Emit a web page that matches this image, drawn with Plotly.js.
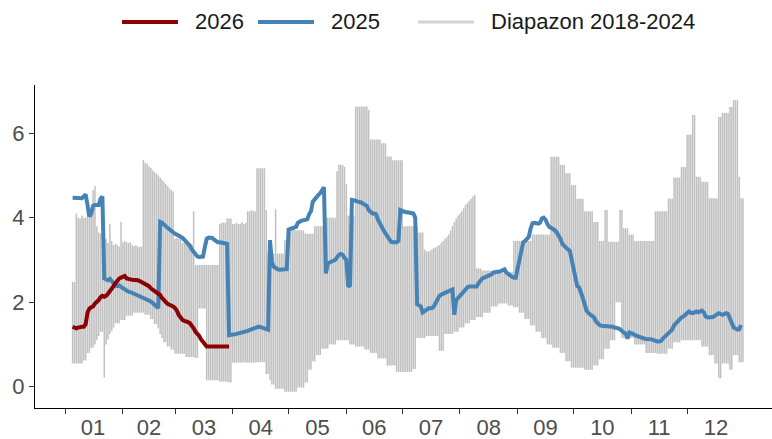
<!DOCTYPE html>
<html>
<head>
<meta charset="utf-8">
<script src="https://cdn.plot.ly/plotly-3.0.1.min.js"></script>
<style>html,body{margin:0;padding:0;background:#fff;}#chart{width:772px;height:439px;}</style>
</head>
<body>
<div id="chart"></div>
<script>
// Day-of-year offsets (0 = 1 January). First value of every series is day 4 (5 January).
const firstDay = 4;

// Range 2018-2024: daily maximum (day 4 .. day 364)
const rangeMax = [
  // Jan (d4-30)
  2.48,2.48,4.1,4.0,3.98,4.05,4.0,4.0,4.2,4.18,4.2,4.65,4.75,3.8,3.65,3.62,3.65,3.55,3.5,3.4,3.85,3.45,3.35,3.38,3.35,3.32,3.9,
  // Jan31-Feb (d31-58)
  3.42,3.45,3.42,3.4,3.42,3.35,3.33,3.35,3.32,3.3,3.32,5.36,5.3,5.28,5.22,5.18,5.12,5.08,5.04,5.0,4.95,4.9,4.85,4.8,4.75,4.7,4.65,4.62,
  // Mar (d59-89)
  3.5,3.52,3.5,3.48,3.4,3.42,3.4,3.38,3.4,3.38,4.15,2.88,2.88,2.88,2.88,2.88,2.88,2.88,2.88,2.88,2.88,2.88,2.88,2.88,3.85,3.88,3.88,3.88,3.98,3.98,3.98,
  // Apr (d90-119)
  3.85,3.85,3.88,3.85,3.85,3.9,3.85,3.88,4.15,4.15,4.18,4.15,4.15,5.17,5.17,5.17,5.17,5.17,4.18,3.15,3.15,3.15,3.15,4.2,3.15,3.15,3.15,3.15,3.47,3.47,
  // May (d120-150)
  3.47,3.7,3.7,3.72,3.7,3.7,3.7,3.7,3.7,3.62,3.62,3.62,3.62,3.62,3.8,3.8,3.8,3.8,3.8,3.8,4.0,4.0,4.0,4.0,4.0,4.0,5.1,5.25,5.25,5.25,5.2,
  // Jun (d151-180)
  4.8,4.05,4.05,4.05,4.05,6.63,6.63,6.63,6.63,6.63,6.63,6.63,6.55,5.85,5.85,5.85,5.85,5.85,5.85,5.76,5.76,5.76,5.45,5.45,5.45,5.36,5.36,5.36,5.36,5.36,
  // Jul (d181-211)
  5.36,3.8,3.8,3.8,3.8,3.8,3.8,3.8,3.8,3.65,3.65,3.65,3.25,3.2,3.2,3.22,3.25,3.28,3.3,3.33,3.35,3.4,3.45,3.5,3.55,3.6,3.7,3.8,3.9,3.98,4.05,
  // Aug (d212-242)
  4.1,4.15,4.22,4.3,4.35,4.4,4.45,4.5,4.54,2.8,2.8,2.8,2.75,2.75,2.75,2.75,2.75,2.75,2.75,2.75,2.75,2.75,2.75,2.75,2.72,2.72,2.72,2.72,2.72,3.45,3.45,
  // Sep (d243-272)
  3.45,3.45,3.45,3.45,3.45,3.45,3.45,3.45,3.6,3.6,3.6,3.6,3.6,3.6,3.6,3.6,3.6,3.6,5.44,5.44,5.44,5.44,5.44,5.25,5.25,5.25,5.05,5.05,5.05,4.77,
  // Oct (d273-303)
  4.77,4.77,4.45,4.45,4.45,4.45,4.15,4.15,4.15,4.15,4.15,3.9,3.9,3.9,3.45,3.45,3.45,4.18,4.18,3.43,3.43,3.43,3.43,3.43,3.43,4.18,4.18,3.75,3.75,3.75,3.6,
  // Nov (d304-333)
  3.6,3.6,3.45,3.45,3.45,3.45,3.45,3.45,3.45,3.45,3.45,3.45,3.45,4.15,4.15,4.15,4.15,4.15,4.15,4.15,4.45,4.45,4.45,4.95,4.95,4.95,4.95,5.2,5.2,5.2,
  // Dec (d334-364)
  5.96,5.96,5.96,6.43,6.43,4.97,4.97,4.97,4.85,4.85,4.85,4.85,4.46,4.46,4.46,4.46,4.46,6.38,6.38,6.48,6.48,6.48,6.48,6.62,6.62,6.78,6.78,6.78,4.97,4.46,4.46
];

// Range 2018-2024: daily minimum (day 4 .. day 364)
const rangeMin = [
  // Jan
  0.55,0.55,0.55,0.55,0.55,0.55,0.62,0.62,0.8,0.8,0.92,0.92,1.0,1.1,1.2,1.3,1.3,0.22,1.0,1.12,1.25,1.32,1.4,1.5,1.5,1.5,1.58,
  // Jan31-Feb
  1.58,1.58,1.68,1.68,1.68,1.68,1.75,1.75,1.75,1.75,1.75,1.75,1.7,1.7,1.7,1.6,1.6,1.48,1.48,1.38,1.25,1.15,1.05,1.05,0.95,0.95,0.88,0.88,
  // Mar
  0.78,0.78,0.78,0.78,0.78,0.78,0.7,0.7,0.7,0.7,0.7,0.68,0.68,1.85,1.85,1.85,1.85,0.15,0.15,0.15,0.15,0.15,0.15,0.15,0.12,0.12,0.12,0.12,0.12,0.1,0.1,
  // Apr
  0.57,0.57,0.57,0.57,0.57,0.57,0.57,0.57,0.57,0.57,0.57,0.57,0.57,0.58,0.58,0.58,0.58,0.58,0.3,0.3,0.15,0.05,0.05,-0.05,-0.05,-0.05,-0.05,-0.05,-0.12,-0.12,
  // May
  -0.12,-0.12,-0.12,-0.12,-0.12,-0.02,-0.02,-0.02,-0.02,0.1,0.1,0.4,0.4,0.6,0.6,0.75,0.75,0.75,0.9,0.9,0.9,0.9,1.0,1.0,1.0,1.0,1.1,1.1,1.1,1.1,1.1,
  // Jun
  1.1,1.1,1.0,1.0,1.0,0.95,0.95,0.95,0.95,0.95,0.88,0.88,0.88,0.8,0.8,0.8,0.8,0.67,0.67,0.67,0.67,0.67,0.5,0.5,0.5,0.5,0.5,0.35,0.35,0.35,
  // Jul
  0.35,0.35,0.35,0.35,0.35,0.35,0.42,0.42,1.15,1.15,1.15,1.15,1.15,1.2,1.2,1.2,1.2,1.2,1.2,1.2,0.85,0.85,0.85,1.25,1.25,1.25,1.25,1.25,1.3,1.3,1.3,
  // Aug
  1.4,1.4,1.4,1.5,1.5,1.5,1.58,1.58,1.58,1.65,1.65,1.65,1.65,1.75,1.75,1.75,1.75,1.9,1.9,1.9,1.9,1.97,1.97,1.97,1.97,1.97,1.92,1.92,1.92,1.88,1.88,
  // Sep
  1.88,1.75,1.75,1.75,1.6,1.6,1.6,1.45,1.45,1.45,1.3,1.3,1.3,1.15,1.15,1.15,1.0,1.0,1.0,0.92,0.92,0.92,0.92,0.8,0.8,0.8,0.6,0.6,0.6,0.45,
  // Oct
  0.45,0.45,0.45,0.45,0.45,0.45,0.4,0.4,0.4,0.4,0.4,0.5,0.5,0.5,0.65,0.65,0.65,0.9,0.9,0.9,1.1,1.1,1.1,2.0,2.0,2.0,1.15,1.15,1.15,1.15,1.15,
  // Nov
  1.15,1.15,1.0,1.0,1.0,1.0,1.0,1.0,0.8,0.8,0.8,0.8,0.8,0.8,0.78,0.78,0.78,0.78,0.78,0.78,0.9,0.9,0.9,1.05,1.05,1.05,1.05,1.1,1.1,1.1,
  // Dec
  1.1,1.1,1.1,1.1,1.1,1.1,1.1,1.1,0.95,0.95,0.95,0.95,0.75,0.75,0.75,0.55,0.55,0.2,0.2,0.55,0.55,0.55,0.55,0.4,0.4,0.75,0.75,0.75,0.58,0.58,0.58
];

// 2025 (day 4 .. day 363)
const y2025 = [
  // Jan
  4.47,4.47,4.46,4.46,4.45,4.46,4.5,4.55,4.3,4.03,4.1,4.28,4.3,4.3,4.3,4.45,4.5,2.56,2.55,2.52,2.55,2.5,2.44,2.4,2.38,2.4,2.36,
  // Jan31-Feb
  2.33,2.3,2.28,2.25,2.24,2.22,2.2,2.18,2.18,2.16,2.14,2.12,2.1,2.08,2.05,2.02,1.98,1.95,1.9,1.86,3.9,3.88,3.85,3.8,3.76,3.72,3.68,3.65,
  // Mar
  3.62,3.6,3.58,3.55,3.52,3.48,3.44,3.4,3.33,3.25,3.18,3.12,3.08,3.07,3.07,3.08,3.3,3.5,3.53,3.53,3.52,3.48,3.44,3.42,3.42,3.4,3.4,3.39,3.38,1.22,1.22,
  // Apr
  1.24,1.24,1.25,1.26,1.26,1.28,1.3,1.3,1.32,1.34,1.36,1.38,1.4,1.42,1.42,1.41,1.4,1.38,1.36,1.35,3.47,2.95,2.84,2.8,2.78,2.77,2.77,2.76,2.76,2.78,
  // May
  3.72,3.74,3.75,3.76,3.78,3.88,3.92,3.93,3.94,3.94,3.96,4.08,4.15,4.38,4.44,4.5,4.54,4.58,4.66,4.72,2.68,2.92,2.94,2.95,2.98,3.0,3.08,3.12,3.14,3.12,3.05,
  // Jun
  3.0,2.37,2.4,4.42,4.42,4.4,4.38,4.38,4.36,4.33,4.3,4.28,4.18,4.12,4.1,4.1,4.08,3.95,3.85,3.78,3.7,3.63,3.55,3.48,3.43,3.42,3.42,3.42,3.45,4.18,
  // Jul
  4.16,4.14,4.13,4.13,4.12,4.12,4.1,4.0,1.95,1.93,1.9,1.76,1.78,1.82,1.85,1.85,1.86,1.9,2.0,2.08,2.15,2.18,2.2,2.22,2.25,2.28,2.3,2.3,1.7,2.05,2.1,
  // Aug
  2.15,2.2,2.28,2.33,2.35,2.37,2.37,2.35,2.35,2.37,2.45,2.52,2.56,2.58,2.6,2.6,2.62,2.66,2.7,2.72,2.72,2.72,2.74,2.78,2.78,2.7,2.66,2.62,2.6,2.58,2.58,
  // Sep
  2.8,3.0,3.3,3.42,3.45,3.5,3.55,3.75,3.87,3.88,3.87,3.86,3.88,3.98,4.0,3.95,3.85,3.78,3.76,3.74,3.7,3.65,3.58,3.5,3.38,3.33,3.28,3.25,3.22,3.0,
  // Oct
  2.8,2.5,2.38,2.35,2.25,2.1,1.95,1.8,1.74,1.7,1.66,1.64,1.55,1.5,1.46,1.44,1.44,1.44,1.44,1.43,1.42,1.42,1.4,1.4,1.38,1.36,1.3,1.28,1.26,1.14,1.28,
  // Nov
  1.27,1.25,1.22,1.2,1.18,1.16,1.14,1.14,1.13,1.13,1.13,1.12,1.1,1.08,1.07,1.07,1.08,1.14,1.18,1.22,1.28,1.32,1.35,1.45,1.5,1.56,1.6,1.64,1.66,1.7,
  // Dec
  1.75,1.78,1.75,1.74,1.76,1.78,1.76,1.78,1.8,1.76,1.66,1.64,1.64,1.63,1.65,1.68,1.7,1.74,1.72,1.7,1.72,1.74,1.72,1.62,1.5,1.4,1.38,1.35,1.36,1.46
];

// 2026 (day 4 .. day 89)
const y2026 = [
  1.42,1.4,1.38,1.4,1.42,1.42,1.42,1.48,1.75,1.85,1.88,1.9,1.97,2.0,2.05,2.12,2.15,2.13,2.15,2.2,2.25,2.3,2.38,2.45,2.52,2.56,2.58,
  2.6,2.62,2.56,2.54,2.54,2.53,2.53,2.52,2.52,2.5,2.48,2.45,2.42,2.4,2.38,2.33,2.3,2.25,2.22,2.2,2.17,2.1,2.05,2.0,1.96,1.94,1.93,1.9,
  1.86,1.8,1.7,1.62,1.58,1.56,1.55,1.53,1.5,1.45,1.38,1.3,1.26,1.2,1.12,1.05,0.98,0.95,0.95,0.95,0.95,0.95,0.95,0.95,0.95,0.95,0.95,0.95,0.95,0.95
];

// Axis structure
const monthStarts = [0,31,59,90,120,151,181,212,243,273,304,334];
const monthMids = [15,45,74.5,105,135.5,166,196.5,227.5,258,288.5,319,349.5];
const monthLabels = ['01','02','03','04','05','06','07','08','09','10','11','12'];
const yTicks = [0,2,4,6];

// Legend entries
const legendNames = ['2026', '2025', 'Diapazon 2018-2024'];
const legendColors = ['#8B0000', '#4682B4', '#d3d3d3'];

const dayIndex = arr => arr.map((_, i) => firstDay + i);

// Vertical range segments
const rx = [], ry = [];
rangeMax.forEach((mx, i) => {
  const d = firstDay + i;
  rx.push(d, d, null);
  ry.push(rangeMin[i], mx, null);
});

const FONT = 'Liberation Sans, Arial, sans-serif';

const traces = [
  {x: rx, y: ry, type: 'scatter', mode: 'lines', name: legendNames[2],
   line: {color: '#c0c0c0', width: 1.5}, hoverinfo: 'skip'},
  {x: dayIndex(y2025), y: y2025, type: 'scatter', mode: 'lines', name: legendNames[1],
   line: {color: legendColors[1], width: 4}},
  {x: dayIndex(y2026), y: y2026, type: 'scatter', mode: 'lines', name: legendNames[0],
   line: {color: legendColors[0], width: 4}}
];

// Legend drawn above the plot (ggplot style: long key, text to the right)
const W = 772, H = 439, ML = 35, MR = 0, MT = 85, MB = 31;
const pw = W - ML - MR, ph = H - MT - MB;
const px2x = px => (px - ML) / pw;
const py2y = py => (H - MB - py) / ph;
const keyStart = [122, 258, 418];
const keyLen = 56, keyGap = 15, legendY = 22;
const shapes = [], annotations = [];
legendNames.forEach((nm, i) => {
  shapes.push({type: 'line', xref: 'paper', yref: 'paper',
    x0: px2x(keyStart[i]), x1: px2x(keyStart[i] + keyLen),
    y0: py2y(legendY), y1: py2y(legendY),
    line: {color: legendColors[i], width: i === 2 ? 3 : 4}});
  annotations.push({xref: 'paper', yref: 'paper', x: px2x(keyStart[i] + keyLen + keyGap),
    y: py2y(legendY), xanchor: 'left', yanchor: 'middle', showarrow: false, text: nm,
    font: {family: FONT, size: 22, color: '#1a1a1a'}});
});

const layout = {
  width: W, height: H,
  margin: {l: ML, r: MR, t: MT, b: MB},
  paper_bgcolor: '#fff', plot_bgcolor: '#fff',
  font: {family: FONT, size: 22, color: '#000'},
  showlegend: false,
  shapes: shapes, annotations: annotations,
  xaxis: {type: 'linear', range: [-16.2, 379.6], tickmode: 'array', tickvals: monthMids,
          ticktext: monthLabels, ticks: '', showgrid: false, zeroline: false,
          showline: true, linecolor: '#000', linewidth: 1,
          tickfont: {family: FONT, size: 22, color: '#4d4d4d'},
          minor: {tickmode: 'array', tickvals: monthStarts, ticks: 'outside', ticklen: 5,
                  tickwidth: 1, tickcolor: '#333', showgrid: false}},
  yaxis: {range: [-0.504, 7.14], tickmode: 'array', tickvals: yTicks, ticks: 'outside',
          ticklen: 5, tickwidth: 1, tickcolor: '#333', showgrid: false, zeroline: false,
          showline: true, linecolor: '#000', linewidth: 1,
          tickfont: {family: FONT, size: 22, color: '#4d4d4d'}}
};

Plotly.newPlot('chart', traces, layout, {staticPlot: true, displayModeBar: false});
</script>
</body>
</html>
